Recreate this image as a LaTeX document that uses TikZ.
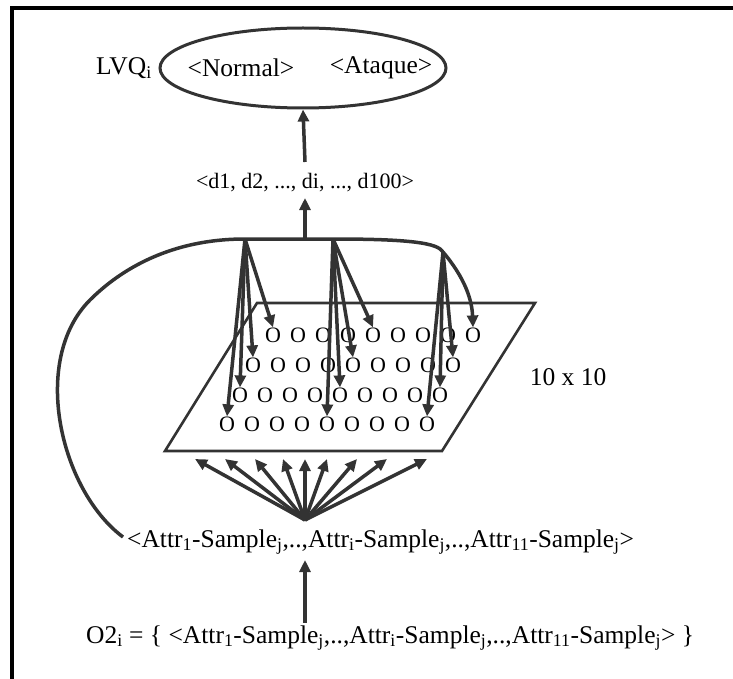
\documentclass[tikz,border=0pt]{standalone}
\usepackage{fontspec}
\setmainfont{Liberation Serif}
\usetikzlibrary{arrows.meta,shapes.geometric}
\definecolor{ink}{HTML}{333333}
\tikzset{
  lbl/.style={font=\fontsize{25.5}{30}\selectfont, inner sep=0pt},
  smalllbl/.style={font=\fontsize{22}{26}\selectfont, inner sep=0pt},
  neuron/.style={font=\fontsize{22}{26}\selectfont, inner sep=0pt},
  arr/.style={draw=ink, line width=3.5pt, -{Triangle[length=12pt,width=11pt]}},
  outline/.style={draw=ink, line width=2.6pt},
}
\begin{document}
\begin{tikzpicture}[x=1pt,y=-1pt]
\useasboundingbox (0,0) rectangle (733,679);
% frame (left and top only)
\draw[line width=4pt] (12,679) -- (12,8) -- (733,8);

% output layer
\node[ellipse, draw=ink, line width=3pt, minimum width=286pt, minimum height=80pt] (out) at (303,68) {};
\node[lbl] (lvq) at (124,68) {LVQ\textsubscript{i}};
\node[lbl] (nor) at (241,68) {<Normal>};
\node[lbl] (ata) at (381,68) {<Ataque>};

% distance vector
\node[smalllbl] (dvec) at (305,183) {<d1, d2, ..., di, ..., d100>};
\coordinate (d0) at (305,162);
\draw[arr] (d0) -- (out.south);
\coordinate (top) at (305,238);
\coordinate (d1) at (305,198);
\draw[arr] (top) -- (d1);

% map plane
\draw[outline] (257,303) -- (535,303) -- (442,451) -- (165,451) -- cycle;
\node[lbl] (dim) at (568,377) {10 x 10};

% neurons
\foreach \r/\y/\x in {1/335/273, 2/365/253, 3/395/240, 4/424/227}{
  \foreach \c in {1,...,9}{
    \node[neuron] (n\r-\c) at ({\x+25*(\c-1)},\y) {O};
  }
}

% hubs on the top curve
\coordinate (hA) at (245,239);
\coordinate (hB) at (333,239);
\coordinate (hC) at (443,252);

% input vector
\node[lbl, anchor=west] (attr) at (127,542) {<Attr\textsubscript{1}-Sample\textsubscript{j},..,Attr\textsubscript{i}-Sample\textsubscript{j},..,Attr\textsubscript{11}-Sample\textsubscript{j}>};
\coordinate (s0) at (123,537);

% big feedback curve
\draw[arr] (s0) .. controls (60,490) and (30,360) .. (90,300)
  .. controls (120,270) and (170,239) .. (hA) -- (hB)
  .. controls (410,239) and (438,243) .. (hC)
  .. controls (465,278) and (472,300) .. (n1-9.north);

% arrows into the grid
\foreach \r in {1,2,3,4}{ \draw[arr] (hA) -- (n\r-1.north); }
\foreach \r in {1,2,3,4}{ \draw[arr] (hB) -- (n\r-5.north); }
\foreach \r in {2,3,4}{ \draw[arr] (hC) -- (n\r-9.north); }

% fan from input vector to plane
\coordinate (fan) at (305,520);
\foreach \i/\x in {1/195,2/225,3/255,4/283,5/305,6/327,7/357,8/387,9/427}{
  \coordinate (f\i) at (\x,459);
  \draw[arr] (fan) -- (f\i);
}

% bottom set
\node[lbl, anchor=west] (o2) at (86,638) {O2\textsubscript{i} = \{ <Attr\textsubscript{1}-Sample\textsubscript{j},..,Attr\textsubscript{i}-Sample\textsubscript{j},..,Attr\textsubscript{11}-Sample\textsubscript{j}> \}};
\coordinate (b0) at (305,623);
\coordinate (b1) at (305,560);
\draw[arr] (b0) -- (b1);
\end{tikzpicture}
\end{document}
